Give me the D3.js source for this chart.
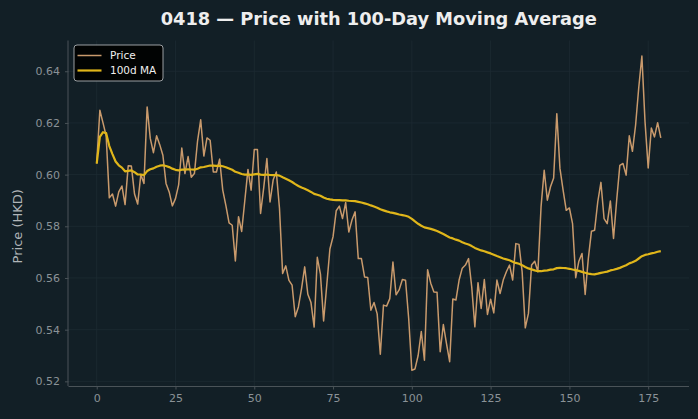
<!DOCTYPE html>
<html>
<head>
<meta charset="utf-8">
<script src="https://cdn.jsdelivr.net/npm/d3@7"></script>
<style>
  body { margin: 0; background: #121f26; }
  svg { display: block; }
</style>
</head>
<body>
<script>
// daily closing prices (index 0..179)
const prices = [
  0.6043, 0.6249, 0.6200, 0.6150, 0.5910, 0.5925, 0.5878, 0.5933, 0.5956, 0.5884,
  0.6034, 0.6033, 0.5925, 0.5886, 0.6000, 0.5966, 0.6262, 0.6140, 0.6085, 0.6150,
  0.6116, 0.6075, 0.5966, 0.5933, 0.5879, 0.5907, 0.5960, 0.6103, 0.6004, 0.6070,
  0.5990, 0.6004, 0.6130, 0.6212, 0.6072, 0.6142, 0.6133, 0.6010, 0.6010, 0.6060,
  0.5940, 0.5880, 0.5813, 0.5804, 0.5666, 0.5837, 0.5780, 0.5900, 0.6020, 0.5940,
  0.6097, 0.6097, 0.5850, 0.5950, 0.6062, 0.5894, 0.5980, 0.6010, 0.5870, 0.5617,
  0.5647, 0.5591, 0.5572, 0.5450, 0.5488, 0.5559, 0.5643, 0.5537, 0.5505, 0.5410,
  0.5680, 0.5615, 0.5434, 0.5572, 0.5712, 0.5760, 0.5860, 0.5878, 0.5830, 0.5892,
  0.5778, 0.5824, 0.5856, 0.5675, 0.5675, 0.5604, 0.5602, 0.5475, 0.5505, 0.5461,
  0.5305, 0.5495, 0.5491, 0.5520, 0.5662, 0.5535, 0.5555, 0.5594, 0.5591, 0.5443,
  0.5243, 0.5248, 0.5300, 0.5393, 0.5282, 0.5632, 0.5580, 0.5546, 0.5545, 0.5315,
  0.5420, 0.5346, 0.5276, 0.5519, 0.5515, 0.5592, 0.5638, 0.5650, 0.5675, 0.5566,
  0.5411, 0.5582, 0.5482, 0.5594, 0.5459, 0.5518, 0.5465, 0.5592, 0.5540, 0.5592,
  0.5624, 0.5650, 0.5592, 0.5733, 0.5730, 0.5624, 0.5407, 0.5463, 0.5650, 0.5665,
  0.5624, 0.5875, 0.6017, 0.5901, 0.5953, 0.5987, 0.6236, 0.6024, 0.5940, 0.5862,
  0.5871, 0.5810, 0.5601, 0.5665, 0.5695, 0.5536, 0.5675, 0.5781, 0.5785, 0.5895,
  0.5970, 0.5830, 0.5810, 0.5898, 0.5753, 0.5901, 0.6036, 0.6043, 0.5998, 0.6150,
  0.6090, 0.6191, 0.6336, 0.6459, 0.6204, 0.6026, 0.6180, 0.6146, 0.6201, 0.6142
];
const maWindow = 100;
const xTicks = [0, 25, 50, 75, 100, 125, 150, 175];
const yTicks = [0.52, 0.54, 0.56, 0.58, 0.60, 0.62, 0.64];
const seriesNames = ["Price", "100d MA"];
const title = "0418 \u2014 Price with 100-Day Moving Average";
const yLabel = "Price (HKD)";

// rolling mean, shorter window at the start (min_periods = 1)
const ma = prices.map((d, i) => d3.mean(prices.slice(Math.max(0, i - maWindow + 1), i + 1)));

const W = 698, H = 419;
const margin = { top: 40.5, right: 9, bottom: 33, left: 68.5 };
const width = W - margin.left - margin.right,
      height = H - margin.top - margin.bottom;

const bg = "#121f26", gridCol = "#1d2b32", axisCol = "#4a5358", tickText = "#8a9297";
const priceCol = "#c99a6c", maCol = "#e0b61a";

const svg = d3.select("body").append("svg")
    .attr("width", W)
    .attr("height", H)
    .style("font-family", "'DejaVu Sans', sans-serif");

svg.append("rect").attr("width", W).attr("height", H).attr("fill", bg);

const g = svg.append("g")
    .attr("transform", "translate(" + margin.left + "," + margin.top + ")");

const x = d3.scaleLinear().domain([-8.95, 187.95]).range([0, width]);
const y = d3.scaleLinear().domain([0.5182, 0.6519]).range([height, 0]);

// grid
g.append("g").selectAll("line").data(xTicks).enter().append("line")
    .attr("x1", d => x(d)).attr("x2", d => x(d))
    .attr("y1", 0).attr("y2", height)
    .attr("stroke", gridCol).attr("stroke-width", 0.8);
g.append("g").selectAll("line").data(yTicks).enter().append("line")
    .attr("y1", d => y(d)).attr("y2", d => y(d))
    .attr("x1", 0).attr("x2", width)
    .attr("stroke", gridCol).attr("stroke-width", 0.8);

// axes
const xAxis = g.append("g")
    .attr("transform", "translate(0," + height + ")")
    .call(d3.axisBottom(x).tickValues(xTicks).tickSize(3.5).tickPadding(5).tickFormat(d3.format("d")));
const yAxis = g.append("g")
    .call(d3.axisLeft(y).tickValues(yTicks).tickSize(3.5).tickPadding(5).tickFormat(d3.format(".2f")));

[xAxis, yAxis].forEach(a => {
  a.select(".domain").attr("stroke", axisCol).attr("stroke-width", 1);
  a.selectAll(".tick line").attr("stroke", axisCol);
  a.selectAll(".tick text").attr("fill", tickText)
      .style("font-size", "11px").style("font-family", "'DejaVu Sans', sans-serif");
});
// matplotlib-style: full-length spines
xAxis.select(".domain").attr("d", "M0,0.5H" + width);
yAxis.select(".domain").attr("d", "M-0.5," + height + "V0");

// lines
const line = d3.line()
    .x((d, i) => x(i))
    .y(d => y(d));

g.append("path")
    .datum(prices)
    .attr("fill", "none")
    .attr("stroke", priceCol)
    .attr("stroke-width", 1.5)
    .attr("stroke-linejoin", "round")
    .attr("d", line);

g.append("path")
    .datum(ma)
    .attr("fill", "none")
    .attr("stroke", maCol)
    .attr("stroke-width", 2.2)
    .attr("stroke-linejoin", "round")
    .attr("d", line);

// title and y label
svg.append("text")
    .attr("x", margin.left + width / 2)
    .attr("y", 24.5)
    .attr("text-anchor", "middle")
    .attr("fill", "#eeeeee")
    .style("font-size", "17.8px")
    .style("font-weight", "bold")
    .text(title);

svg.append("text")
    .attr("transform", "translate(22," + (margin.top + height / 2 + 13) + ") rotate(-90)")
    .attr("text-anchor", "middle")
    .attr("fill", "#b0b5b8")
    .style("font-size", "13px")
    .text(yLabel);

// legend
const leg = g.append("g").attr("transform", "translate(5.5,4.5)");
leg.append("rect")
    .attr("width", 89).attr("height", 36)
    .attr("rx", 3)
    .attr("fill", "#000000").attr("fill-opacity", 0.9)
    .attr("stroke", "#9a9fa2").attr("stroke-width", 1);
const legCols = [priceCol, maCol], legW = [1.5, 2.2];
seriesNames.forEach((name, i) => {
  const ly = 10.5 + i * 15;
  leg.append("line")
      .attr("x1", 3.5).attr("x2", 27.5)
      .attr("y1", ly).attr("y2", ly)
      .attr("stroke", legCols[i]).attr("stroke-width", legW[i]);
  leg.append("text")
      .attr("x", 36).attr("y", ly + 3.8)
      .attr("fill", "#f0f0f0")
      .style("font-size", "10.5px")
      .text(name);
});
</script>
</body>
</html>
